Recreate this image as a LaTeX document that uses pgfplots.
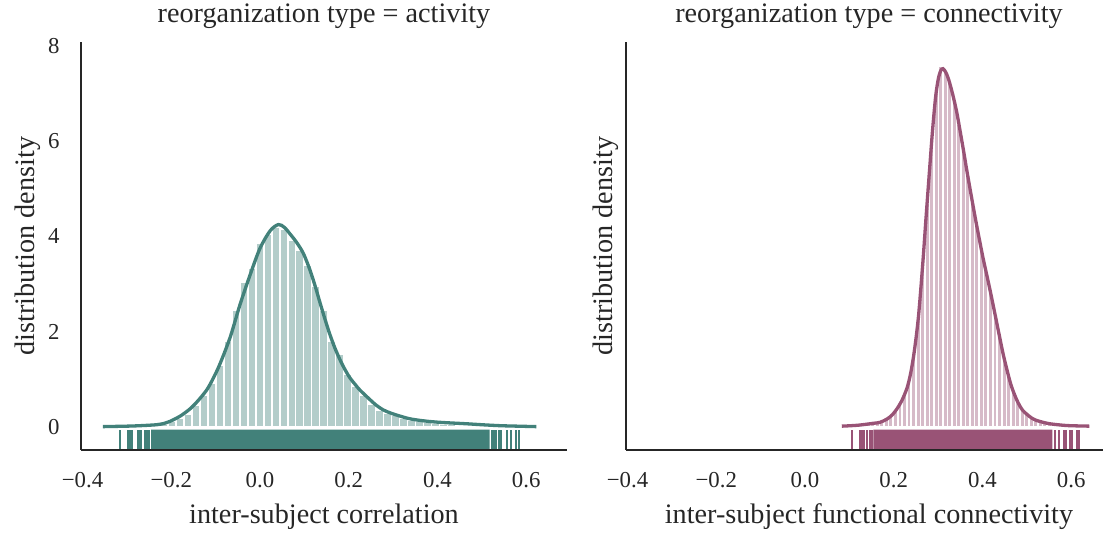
\documentclass[border=0pt]{standalone}
\usepackage{pgfplots}
\pgfplotsset{compat=1.18}
\usepackage{fontspec}
\setmainfont{Liberation Serif}
\definecolor{tealD}{HTML}{42817A}
\definecolor{tealL}{HTML}{B3CDCA}
\definecolor{plumD}{HTML}{995376}
\definecolor{plumL}{HTML}{D6BAC8}
\definecolor{spine}{HTML}{262626}
\newcommand{\lblfont}{\fontsize{14.1pt}{17pt}\selectfont}
\newcommand{\tckfont}{\fontsize{11.4pt}{13pt}\selectfont}
\pgfplotsset{
  every axis title shift=0pt,
  panel/.style={
    scale only axis, width=243pt, height=204pt,
    xmin=-0.4034, xmax=0.692, ymin=-0.48, ymax=8.08,
    axis x line*=bottom, axis y line*=left,
    axis line style={-, spine, line width=1.4pt},
    major tick length=0pt,
    /pgf/number format/assume math mode=true,
    xtick={-0.4,-0.2,0,0.2,0.4,0.6},
    xticklabels={−0.4,−0.2,0.0,0.2,0.4,0.6},
    xticklabel style={anchor=base, inner sep=0pt, yshift=-19pt, font=\tckfont, text=spine},
    yticklabel style={anchor=east, inner sep=0pt, xshift=-10.5pt, font=\tckfont, text=spine},
    title style={at={(axis description cs:0.5,1.049)}, anchor=base, inner sep=0pt, font=\lblfont, text=spine},
    xlabel style={at={(axis description cs:0.5,-0.1814)}, anchor=base, inner sep=0pt, font=\lblfont, text=spine},
    ylabel style={anchor=base, inner sep=0pt, font=\lblfont, text=spine},
    ylabel={distribution density},
    axis on top,
  }
}
\pgfplotstableread{
x y
-0.3155 0.01
-0.2975 0.01
-0.2795 0.02
-0.2615 0.03
-0.2435 0.05
-0.2255 0.07
-0.2075 0.12
-0.1895 0.18
-0.1715 0.28
-0.1535 0.45
-0.1355 0.68
-0.1175 0.92
-0.0995 1.30
-0.0815 1.81
-0.0635 2.45
-0.0455 3.04
-0.0275 3.33
-0.0095 3.85
0.0085 4.04
0.0265 4.20
0.0445 4.15
0.0625 3.92
0.0805 3.71
0.0985 3.39
0.1165 2.95
0.1345 2.45
0.1525 1.80
0.1705 1.54
0.1885 1.12
0.2065 0.86
0.2245 0.68
0.2425 0.49
0.2605 0.36
0.2785 0.30
0.2965 0.24
0.3145 0.19
0.3325 0.14
0.3505 0.12
0.3685 0.10
0.3865 0.08
0.4045 0.07
0.4225 0.06
0.4405 0.05
0.4585 0.05
0.4765 0.04
0.4945 0.03
0.5125 0.03
0.5305 0.02
0.5485 0.02
0.5665 0.01
0.5845 0.01
}\histA
\pgfplotstableread{
x y
0.1070 0.035
0.1172 0.04
0.1274 0.055
0.1376 0.065
0.1478 0.08
0.1580 0.09
0.1682 0.12
0.1784 0.16
0.1886 0.23
0.1988 0.34
0.2090 0.49
0.2192 0.68
0.2294 0.98
0.2396 1.48
0.2498 2.25
0.2600 3.36
0.2702 4.70
0.2804 5.99
0.2906 7.02
0.3008 7.58
0.3110 7.46
0.3212 7.21
0.3314 6.83
0.3416 6.36
0.3518 5.82
0.3620 5.27
0.3722 4.73
0.3824 4.21
0.3926 3.72
0.4028 3.27
0.4130 2.83
0.4232 2.37
0.4334 1.90
0.4436 1.45
0.4538 1.06
0.4640 0.77
0.4742 0.54
0.4844 0.37
0.4946 0.27
0.5048 0.20
0.5150 0.15
0.5252 0.12
0.5354 0.095
0.5456 0.075
0.5558 0.055
0.5660 0.045
0.5762 0.035
0.5864 0.03
0.5966 0.025
0.6068 0.02
0.6170 0.02
}\histB
\pgfplotstableread{
x y
-0.3155 -0.6
-0.3155 -0.052
-0.3155 nan
-0.298 -0.6
-0.298 -0.052
-0.298 nan
-0.2955 -0.6
-0.2955 -0.052
-0.2955 nan
-0.292 -0.6
-0.292 -0.052
-0.292 nan
-0.288 -0.6
-0.288 -0.052
-0.288 nan
-0.276 -0.6
-0.276 -0.052
-0.276 nan
-0.2725 -0.6
-0.2725 -0.052
-0.2725 nan
-0.269 -0.6
-0.269 -0.052
-0.269 nan
-0.259 -0.6
-0.259 -0.052
-0.259 nan
-0.2545 -0.6
-0.2545 -0.052
-0.2545 nan
-0.250 -0.6
-0.250 -0.052
-0.250 nan
0.5221 -0.6
0.5221 -0.052
0.5221 nan
0.528 -0.6
0.528 -0.052
0.528 nan
0.533 -0.6
0.533 -0.052
0.533 nan
0.538 -0.6
0.538 -0.052
0.538 nan
0.543 -0.6
0.543 -0.052
0.543 nan
0.5565 -0.6
0.5565 -0.052
0.5565 nan
0.5655 -0.6
0.5655 -0.052
0.5655 nan
0.5768 -0.6
0.5768 -0.052
0.5768 nan
0.5849 -0.6
0.5849 -0.052
}\rugA
\pgfplotstableread{
x y
0.107 -0.6
0.107 -0.052
0.107 nan
0.124 -0.6
0.124 -0.052
0.124 nan
0.1295 -0.6
0.1295 -0.052
0.1295 nan
0.134 -0.6
0.134 -0.052
0.134 nan
0.139 -0.6
0.139 -0.052
0.139 nan
0.147 -0.6
0.147 -0.052
0.147 nan
0.151 -0.6
0.151 -0.052
0.151 nan
0.5644 -0.6
0.5644 -0.052
0.5644 nan
0.572 -0.6
0.572 -0.052
0.572 nan
0.583 -0.6
0.583 -0.052
0.583 nan
0.589 -0.6
0.589 -0.052
0.589 nan
0.597 -0.6
0.597 -0.052
0.597 nan
0.602 -0.6
0.602 -0.052
0.602 nan
0.612 -0.6
0.612 -0.052
0.612 nan
0.6165 -0.6
0.6165 -0.052
}\rugB
\begin{document}
\begin{tikzpicture}
\begin{axis}[panel, at={(40.5pt,41.5pt)}, anchor=south west,
  ytick={0,2,4,6,8},
  title={reorganization type = activity},
  xlabel={inter-subject correlation},
  ylabel style={at={(axis description cs:-0.0967,0.5)}}]
\addplot[ybar interval, fill=tealL, draw=white, line width=0.8pt] table {\histA};
\addplot[tealD, line width=1.65pt, smooth] coordinates {
(-0.354,0.01) (-0.30,0.02) (-0.27,0.03) (-0.233,0.05) (-0.215,0.08) (-0.203,0.12)
(-0.18,0.23) (-0.158,0.38) (-0.14,0.55) (-0.120,0.78) (-0.105,1.03) (-0.090,1.33)
(-0.067,1.89) (-0.045,2.57) (-0.022,3.20) (0.000,3.75) (0.023,4.12) (0.0415,4.25)
(0.055,4.19) (0.068,4.05) (0.083,3.87) (0.098,3.64) (0.1125,3.30) (0.124,2.97)
(0.135,2.62) (0.146,2.28) (0.157,1.96) (0.168,1.68) (0.180,1.42) (0.192,1.20)
(0.203,1.03) (0.215,0.89) (0.225,0.78) (0.2475,0.58) (0.262,0.46) (0.278,0.36)
(0.296,0.29) (0.316,0.23) (0.335,0.18) (0.3535,0.15) (0.38,0.12) (0.406,0.10)
(0.435,0.085) (0.466,0.07) (0.50,0.05) (0.541,0.03) (0.58,0.02) (0.623,0.01)};
\addplot[fill=tealD, draw=none] coordinates {(-0.2456,-0.6) (0.5177,-0.6) (0.5177,-0.052) (-0.2456,-0.052) (-0.2456,-0.6)};
\addplot[tealD, line width=1pt, unbounded coords=jump] table {\rugA};
\end{axis}
\begin{axis}[panel, at={(313pt,41.5pt)}, anchor=south west,
  ytick=\empty,
  title={reorganization type = connectivity},
  xlabel={inter-subject functional connectivity},
  ylabel style={at={(axis description cs:-0.0288,0.5)}}]
\addplot[ybar interval, fill=plumL, draw=white, line width=0.8pt] table {\histB};
\addplot[plumD, line width=1.65pt, smooth] coordinates {
(0.083,0.02) (0.12,0.04) (0.154,0.08) (0.169,0.10) (0.185,0.17) (0.197,0.26)
(0.207,0.38) (0.218,0.55) (0.230,0.82) (0.238,1.12) (0.245,1.50) (0.251,1.92)
(0.256,2.34) (0.2615,2.95) (0.267,3.62) (0.2725,4.35) (0.278,5.05) (0.282,5.55)
(0.286,6.05) (0.291,6.60) (0.2956,7.02) (0.301,7.33) (0.306,7.48) (0.311,7.52)
(0.317,7.45) (0.3236,7.30) (0.333,6.98) (0.342,6.61) (0.3495,6.22) (0.357,5.82)
(0.3645,5.40) (0.372,5.00) (0.3795,4.61) (0.387,4.23) (0.3945,3.87) (0.402,3.52)
(0.417,2.88) (0.432,2.20) (0.447,1.52) (0.462,0.96) (0.4715,0.70) (0.481,0.50)
(0.490,0.36) (0.500,0.27) (0.511,0.19) (0.522,0.14) (0.537,0.10) (0.552,0.07)
(0.575,0.045) (0.597,0.03) (0.641,0.02)};
\addplot[fill=plumD, draw=none] coordinates {(0.154,-0.6) (0.5578,-0.6) (0.5578,-0.052) (0.154,-0.052) (0.154,-0.6)};
\addplot[plumD, line width=1pt, unbounded coords=jump] table {\rugB};
\end{axis}
\pgfresetboundingbox
\useasboundingbox (0,0) rectangle (551.5pt,266.5pt);
\end{tikzpicture}
\end{document}
